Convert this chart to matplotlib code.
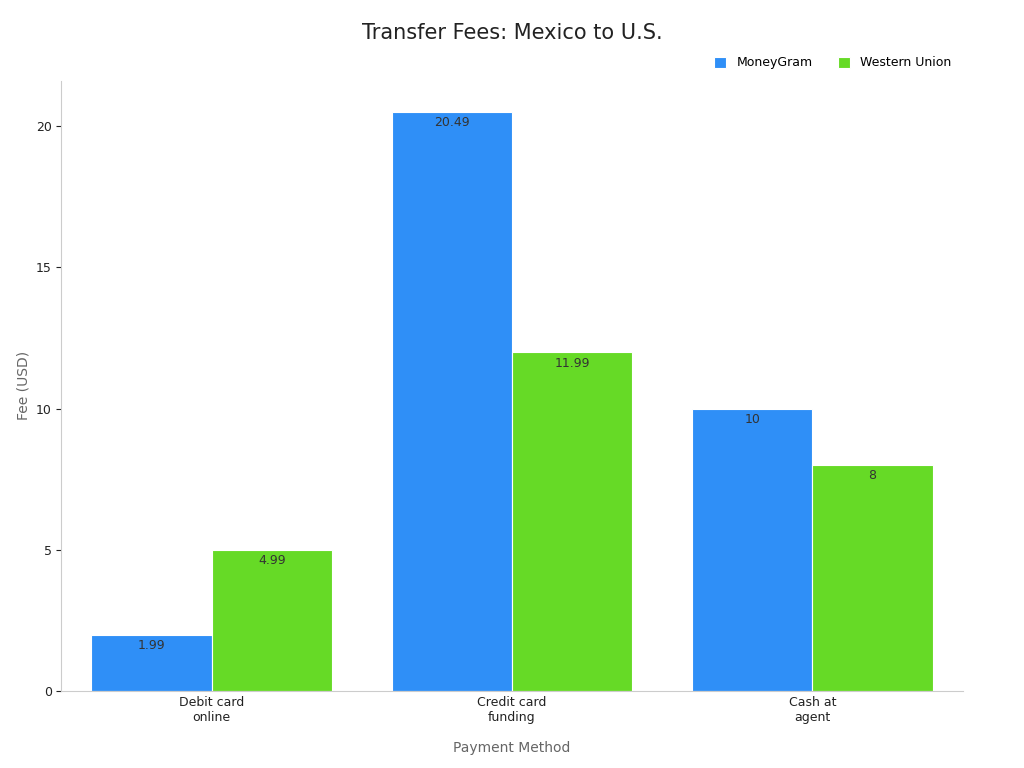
import matplotlib.pyplot as plt
import numpy as np

categories = ["Debit card\nonline", "Credit card\nfunding", "Cash at\nagent"]
moneygram = [1.99, 20.49, 10]
western_union = [4.99, 11.99, 8]
labels_mg = ["1.99", "20.49", "10"]
labels_wu = ["4.99", "11.99", "8"]

fig, ax = plt.subplots(figsize=(10.24, 7.68), dpi=100)
plt.subplots_adjust(left=0.06, right=0.94, top=0.895, bottom=0.1)

x = np.arange(len(categories))
w = 0.4
b1 = ax.bar(x - w / 2, moneygram, w, color="#2f8ff7", edgecolor="white", linewidth=0.8, label="MoneyGram")
b2 = ax.bar(x + w / 2, western_union, w, color="#66da26", edgecolor="white", linewidth=0.8, label="Western Union")

for bars, labs in ((b1, labels_mg), (b2, labels_wu)):
    for bar, lab in zip(bars, labs):
        ax.text(bar.get_x() + bar.get_width() / 2, bar.get_height() - 0.15, lab,
                ha="center", va="top", fontsize=9, color="#333333")

ax.set_xticks(x)
ax.set_xticklabels(categories, fontsize=9, color="#222222")
ax.set_yticks([0, 5, 10, 15, 20])
ax.tick_params(axis="y", labelsize=9, colors="#222222")
ax.tick_params(axis="x", length=0)
ax.set_xlim(-0.5, 2.5)
ax.set_ylim(0, 21.6)
ax.set_xlabel("Payment Method", fontsize=10, color="#666666", labelpad=12)
ax.set_ylabel("Fee (USD)", fontsize=10, color="#666666")
for s in ("top", "right"):
    ax.spines[s].set_visible(False)
for s in ("left", "bottom"):
    ax.spines[s].set_color("#cccccc")

fig.suptitle("Transfer Fees: Mexico to U.S.", fontsize=15, color="#222222", y=0.97)
ax.legend(loc="lower right", bbox_to_anchor=(1.0, 1.0), ncol=2, frameon=False,
          fontsize=9, handlelength=1, handleheight=1, columnspacing=2)

fig.savefig("out.png")
